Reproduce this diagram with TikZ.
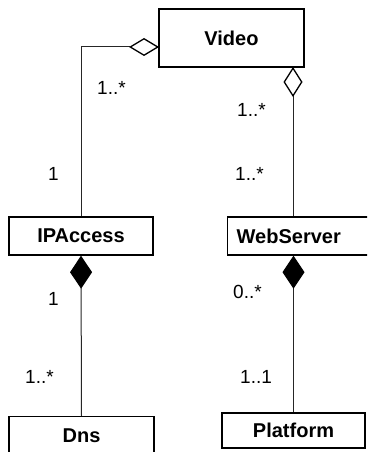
\documentclass[tikz,border=0pt]{standalone}
\usepackage{fontspec}
\setmainfont{Liberation Sans}
\usetikzlibrary{arrows.meta}
\begin{document}
\begin{tikzpicture}[x=1pt,y=-1pt,
  classbox/.style={draw=black, line width=1.4pt, fill=white, inner sep=0pt,
    font=\fontsize{20}{22}\selectfont\bfseries},
  link/.style={draw=black!85, line width=1pt},
  mult/.style={font=\fontsize{19}{21}\selectfont, inner sep=0pt, anchor=base west},
  aggr/.style={-{Diamond[open, length=30pt, width=18pt, line width=1.3pt, color=black]}},
  aggrv/.style={-{Diamond[open, length=30pt, width=19pt, line width=1.3pt, color=black]}},
  comp/.style={{Diamond[length=33pt, width=22pt, color=black, fill=black]}-}]
\useasboundingbox (0,0) rectangle (367,452);
\clip (0,0) rectangle (367,452);

% classes
\node[classbox, minimum width=145pt, minimum height=58pt] (video) at (231.5,38) {Video};
\node[classbox, minimum width=144pt, minimum height=38pt] (ipaccess) at (81,236) {IPAccess};
\node[classbox, anchor=west, text width=130pt, align=left, inner xsep=9pt,
      minimum height=38pt] (webserver) at (227,236) {WebServer};
\node[classbox, anchor=north, minimum width=145pt, text height=14pt, text depth=40pt,
      inner ysep=12pt] (dns) at (81.5,416) {Dns};
\node[classbox, minimum width=143pt, minimum height=35pt] (platform) at (293.5,430.5) {Platform};

% attachment points
\coordinate (vleft) at (159,47);
\coordinate (vright) at (293,67);

% aggregations
\draw[link, aggr] (ipaccess.north) |- (vleft);
\draw[link, aggrv] (webserver.north -| vright) -- (vright);

% compositions
\draw[link, comp] (ipaccess.south) -- (dns.north);
\draw[link, comp] (webserver.south -| platform.north) -- (platform.north);

% multiplicities
\node[mult] (m1) at (97,94) {1..*};
\node[mult] (m2) at (237,116) {1..*};
\node[mult] (m3) at (48,180) {1};
\node[mult] (m4) at (235,180) {1..*};
\node[mult] (m5) at (48,305) {1};
\node[mult] (m6) at (233,298) {0..*};
\node[mult] (m7) at (25,383) {1..*};
\node[mult] (m8) at (240,383) {1..1};
\end{tikzpicture}
\end{document}
